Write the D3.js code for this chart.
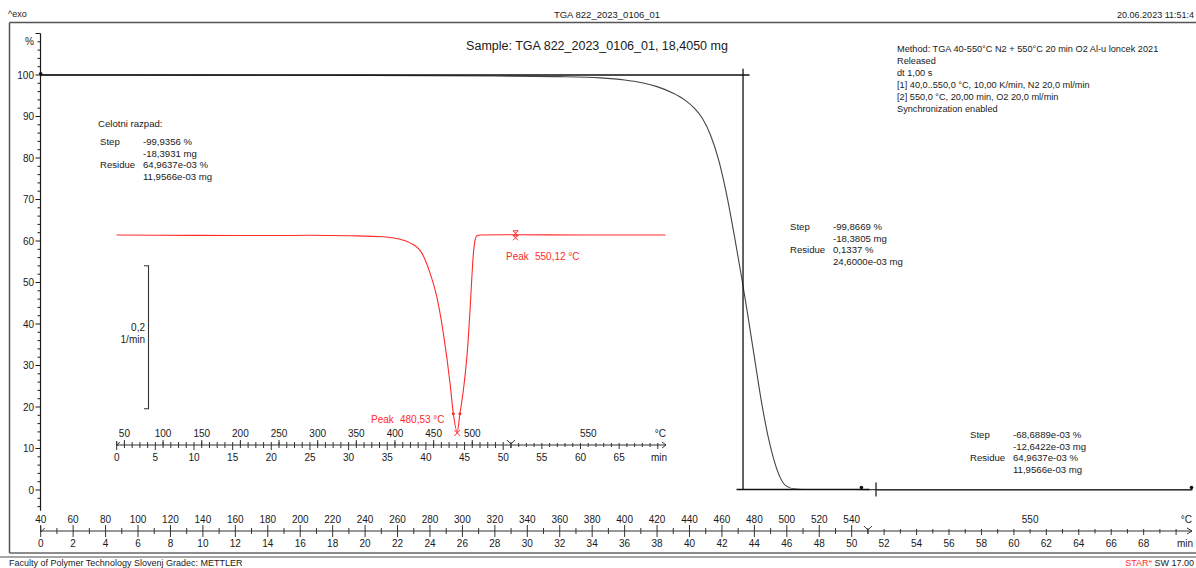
<!DOCTYPE html>
<html>
<head>
<meta charset="utf-8">
<script src="https://cdn.jsdelivr.net/npm/d3@7"></script>
<style>
  html, body { margin: 0; padding: 0; background: #fff; }
  svg { display: block; font-family: "Liberation Sans", Arial, sans-serif; }
</style>
</head>
<body>
<svg id="chart" width="1196" height="568"></svg>
<script>
// ---- TGA curve: time (min) vs mass (%) ----
const tgaTime = [0, 10, 20, 28, 32, 34.5, 36, 37, 38, 39, 39.7, 40.3, 40.8, 41.3, 41.8, 42.3, 42.8, 43.2, 43.6, 44.04, 44.47, 44.84, 45.21, 45.58, 45.95, 46.5, 47.4, 51, 60, 71];
const tgaPct  = [100, 99.97, 99.9, 99.75, 99.6, 99.3, 98.8, 98.2, 97.2, 95.6, 94.0, 92.0, 89.5, 85.5, 79.5, 71.0, 60.5, 51.5, 42.0, 31.0, 20.5, 13.0, 7.2, 3.1, 1.0, 0.25, 0.12, 0.10, 0.08, 0.065];

// ---- DTG curve: time (min) vs rate (1/min) ----
const dtgTime = [0, 10, 20, 25, 30.2, 34.5, 36.65, 37.95, 39.46, 40.53, 41.4, 42.25, 43.12, 43.55, 44.05, 44.4, 44.8, 45.15, 45.45, 45.7, 45.95, 46.15, 46.35, 46.6, 47, 51.6, 60, 71];
const dtgVal  = [0, -0.0005, -0.0008, -0.0004, -0.001, -0.0024, -0.006, -0.011, -0.025, -0.053, -0.086, -0.137, -0.207, -0.25, -0.2755, -0.25, -0.221, -0.188, -0.15, -0.107, -0.058, -0.025, -0.008, -0.001, 0, 0.0003, 0, 0];

// ---- Axis labels ----
const mainTempLabels = [40, 60, 80, 100, 120, 140, 160, 180, 200, 220, 240, 260, 280, 300, 320, 340, 360, 380, 400, 420, 440, 460, 480, 500, 520, 540];
const mainMinLabels = [0, 2, 4, 6, 8, 10, 12, 14, 16, 18, 20, 22, 24, 26, 28, 30, 32, 34, 36, 38, 40, 42, 44, 46, 48, 50, 52, 54, 56, 58, 60, 62, 64, 66, 68];
const innerTempLabels = [50, 100, 150, 200, 250, 300, 350, 400, 450, 500];
const innerMinLabels = [0, 5, 10, 15, 20, 25, 30, 35, 40, 45, 50, 55, 60, 65];
const pctTicks = [0, 10, 20, 30, 40, 50, 60, 70, 80, 90, 100];
const isoTemp = 550;         // isothermal segment temperature
const isoStart = 51;         // min at which the isotherm starts
const isoLabelAt = 61;       // min where the isotherm temperature is written
const heatStart = 40, heatRate = 10;  // °C, K/min

// ---- Evaluations ----
const peaks = [{t: 44.05, v: -0.2755, label: "Peak", value: "480,53 °C", lo: 43.55, hi: 44.4},
               {t: 51.6, v: 0.0003, label: "Peak", value: "550,12 °C"}];
const stepMain = {left: 43.7, at: 43.3, baseFrom: 42.9, baseTo: 51.1, residue: 0.1337, top: 101.5};
const stepTail = {at: 51.5, end: 71};

const headerLeft = "^exo";
const headerCenter = "TGA 822_2023_0106_01";
const headerRight = "20.06.2023 11:51:4";
const sampleTitle = "Sample: TGA 822_2023_0106_01, 18,4050 mg";
const methodLines = ["Method: TGA 40-550°C N2 + 550°C 20 min O2 Al-u loncek 2021", "Released", "dt 1,00 s",
  "[1] 40,0..550,0 °C, 10,00 K/min, N2 20,0 ml/min", "[2] 550,0 °C, 20,00 min, O2 20,0 ml/min", "Synchronization enabled"];
const evalTotal = ["Celotni razpad:", ["Step", "-99,9356 %"], ["", "-18,3931 mg"], ["Residue", "64,9637e-03 %"], ["", "11,9566e-03 mg"]];
const evalStep1 = [["Step", "-99,8669 %"], ["", "-18,3805 mg"], ["Residue", "0,1337 %"], ["", "24,6000e-03 mg"]];
const evalStep2 = [["Step", "-68,6889e-03 %"], ["", "-12,6422e-03 mg"], ["Residue", "64,9637e-03 %"], ["", "11,9566e-03 mg"]];
const footerLeft = "Faculty of Polymer Technology Slovenj Gradec: METTLER";

const svg = d3.select("#chart");
const RED = "#ff2a2a";
const INK = "#1a1a1a";

// ---- Scales ----
const x = d3.scaleLinear().domain([0, 70]).range([40.7, 40.7 + 70 * 16.22]);
const y = d3.scaleLinear().domain([0, 100]).range([490, 75]);
const xi = d3.scaleLinear().domain([0, 70]).range([116.7, 116.7 + 70 * 7.73]);
const yi = d3.scaleLinear().domain([-0.2, 0]).range([378, 235]);
const tempToMin = T => (T - heatStart) / heatRate;

// ---- Frame ----
svg.append("line").attr("x1", 9.5).attr("x2", 1196).attr("y1", 22.5).attr("y2", 22.5).attr("stroke", "#555").attr("stroke-width", 1.5);
svg.append("line").attr("x1", 9.5).attr("x2", 9.5).attr("y1", 22.5).attr("y2", 553).attr("stroke", "#555").attr("stroke-width", 1.5);
svg.append("line").attr("x1", 9.5).attr("x2", 1196).attr("y1", 553).attr("y2", 553).attr("stroke", "#666").attr("stroke-width", 1.3);
svg.append("line").attr("x1", 0).attr("x2", 1196).attr("y1", 557).attr("y2", 557).attr("stroke", "#888").attr("stroke-width", 1.3);

const txt = (xx, yy, s, opts = {}) => svg.append("text").attr("x", xx).attr("y", yy)
  .attr("font-size", opts.size || 10).attr("fill", opts.fill || INK)
  .attr("text-anchor", opts.anchor || "start").text(s);

txt(8, 17, headerLeft, {size: 9});
txt(607, 18, headerCenter, {size: 9.5, anchor: "middle"});
txt(1194, 18, headerRight, {size: 9, anchor: "end"});
txt(597, 50, sampleTitle, {size: 12.5, anchor: "middle"});
methodLines.forEach((s, i) => txt(897, 52 + i * 12, s, {size: 9.2}));
txt(9, 566, footerLeft, {size: 9});
const star = svg.append("text").attr("x", 1194).attr("y", 566).attr("font-size", 9).attr("text-anchor", "end");
star.append("tspan").attr("fill", RED).text("STAR");
star.append("tspan").attr("fill", RED).attr("font-size", 6).attr("dy", -3).text("e");
star.append("tspan").attr("fill", INK).attr("dy", 3).text(" SW 17.00");

// ---- Y axis (%) ----
svg.append("line").attr("x1", 40.5).attr("x2", 40.5).attr("y1", y(110)).attr("y2", y(-5)).attr("stroke", INK).attr("stroke-width", 1.2);
d3.range(-4, 111, 2).forEach(v => {
  const major = v % 10 === 0;
  svg.append("line").attr("x1", 40.5 - (major ? 5 : 3)).attr("x2", 40.5).attr("y1", y(v)).attr("y2", y(v))
    .attr("stroke", INK).attr("stroke-width", 1);
});
pctTicks.forEach(v => txt(34, y(v) + 3.5, v, {anchor: "end"}));
txt(34, y(108) + 3.5, "%", {anchor: "end"});

// ---- Main bottom axis (°C / min) ----
const axY = 531;
svg.append("line").attr("x1", x(0)).attr("x2", 1192).attr("y1", axY).attr("y2", axY).attr("stroke", "#333").attr("stroke-width", 1.1);
svg.append("path").attr("d", `M1187,${axY - 3}L1192,${axY}L1187,${axY + 3}`).attr("fill", "none").attr("stroke", "#333");
d3.range(0, 71).forEach(m => {
  const even = m % 2 === 0;
  let up, dn;
  if (m <= isoStart) { up = even ? 6 : 3; dn = even ? 6 : 3; }
  else { up = 2; dn = even ? 4 : 2.5; }
  svg.append("line").attr("x1", x(m)).attr("x2", x(m)).attr("y1", axY - up).attr("y2", axY + dn).attr("stroke", "#333").attr("stroke-width", 1);
});
svg.append("path").attr("d", `M${x(0)},${axY - 5}L${x(0)},${axY + 1}L${x(0) + 4},${axY - 3}`).attr("fill", "none").attr("stroke", "#333");
svg.append("path").attr("d", `M${x(isoStart) - 4},${axY - 5}L${x(isoStart)},${axY - 1}L${x(isoStart) + 4},${axY - 5}M${x(isoStart)},${axY - 1}L${x(isoStart)},${axY + 3}`)
  .attr("fill", "none").attr("stroke", "#333");
mainTempLabels.forEach(T => txt(x(tempToMin(T)), 523, T, {anchor: "middle"}));
txt(x(isoLabelAt), 523, isoTemp, {anchor: "middle"});
txt(1192, 523, "°C", {anchor: "end"});
mainMinLabels.forEach(m => txt(x(m), 547, m, {anchor: "middle"}));
txt(1193, 547, "min", {anchor: "end"});

// ---- Inner DTG axis ----
const iaY = 445;
svg.append("line").attr("x1", xi(0)).attr("x2", 666).attr("y1", iaY).attr("y2", iaY).attr("stroke", "#333").attr("stroke-width", 1.1);
svg.append("path").attr("d", `M662,${iaY - 3}L666,${iaY}L662,${iaY + 3}`).attr("fill", "none").attr("stroke", "#333");
d3.range(0, 71).forEach(m => {
  const five = m % 5 === 0;
  if (m <= isoStart) {
    svg.append("line").attr("x1", xi(m)).attr("x2", xi(m)).attr("y1", iaY - 3).attr("y2", iaY + (five ? 5 : 3)).attr("stroke", "#333");
  } else {
    svg.append("line").attr("x1", xi(m)).attr("x2", xi(m)).attr("y1", iaY - 2).attr("y2", iaY + (five ? 4 : 2)).attr("stroke", "#333");
  }
});
innerTempLabels.forEach(T => {
  const m = tempToMin(T);
  svg.append("line").attr("x1", xi(m)).attr("x2", xi(m)).attr("y1", iaY - 5).attr("y2", iaY).attr("stroke", "#333");
  txt(xi(m), 437, T, {anchor: "middle"});
});
svg.append("path").attr("d", `M${xi(0)},${iaY - 4}L${xi(0)},${iaY + 1}L${xi(0) + 3},${iaY - 3}`).attr("fill", "none").attr("stroke", "#333");
svg.append("path").attr("d", `M${xi(isoStart) - 4},${iaY - 5}L${xi(isoStart)},${iaY - 1}L${xi(isoStart) + 4},${iaY - 5}M${xi(isoStart)},${iaY - 1}L${xi(isoStart)},${iaY + 3}`)
  .attr("fill", "none").attr("stroke", "#333");
txt(xi(isoLabelAt), 437, isoTemp, {anchor: "middle"});
txt(666, 437, "°C", {anchor: "end"});
innerMinLabels.forEach(m => txt(xi(m), 461, m, {anchor: "middle"}));
txt(667, 461, "min", {anchor: "end"});

// DTG scale bar (0,2 1/min)
const barTop = yi(-0.043), barBot = yi(-0.243);
svg.append("path").attr("d", `M144,${barTop}L148.5,${barTop}L148.5,${barBot}L144,${barBot}`)
  .attr("fill", "none").attr("stroke", "#333").attr("stroke-width", 1.1);
txt(145, 331, "0,2", {anchor: "end"});
txt(145, 343, "1/min", {anchor: "end"});

// ---- Curves ----
const tga = tgaTime.map((t, i) => [t, tgaPct[i]]);
const dtg = dtgTime.map((t, i) => [t, dtgVal[i]]);

svg.append("path").datum(dtg)
  .attr("d", d3.line().x(d => xi(d[0])).y(d => yi(d[1])).curve(d3.curveMonotoneX))
  .attr("fill", "none").attr("stroke", RED).attr("stroke-width", 1.1);

svg.append("path").datum(tga)
  .attr("d", d3.line().x(d => x(d[0])).y(d => y(d[1])).curve(d3.curveMonotoneX))
  .attr("fill", "none").attr("stroke", "#444").attr("stroke-width", 1.1);

// Step evaluation lines
svg.append("line").attr("x1", x(0)).attr("x2", x(stepMain.left)).attr("y1", y(100)).attr("y2", y(100)).attr("stroke", "#111").attr("stroke-width", 1.3);
svg.append("line").attr("x1", x(stepMain.at)).attr("x2", x(stepMain.at)).attr("y1", y(stepMain.top)).attr("y2", y(0)).attr("stroke", "#111").attr("stroke-width", 1.3);
svg.append("line").attr("x1", x(stepMain.baseFrom)).attr("x2", x(stepMain.baseTo)).attr("y1", y(stepMain.residue)).attr("y2", y(stepMain.residue)).attr("stroke", "#111").attr("stroke-width", 1.6);
svg.append("line").attr("x1", x(stepTail.at)).attr("x2", x(stepTail.at)).attr("y1", y(stepMain.residue) - 7).attr("y2", y(stepMain.residue) + 7).attr("stroke", "#111").attr("stroke-width", 1.2);
svg.append("line").attr("x1", x(stepTail.at)).attr("x2", x(stepTail.end)).attr("y1", y(0.065)).attr("y2", y(0.065)).attr("stroke", "#333").attr("stroke-width", 1.3);
[[0, 100.3], [stepMain.baseTo - 0.5, 0.6], [stepTail.end - 0.05, 0.6]].forEach(p => {
  svg.append("circle").attr("cx", x(p[0])).attr("cy", y(p[1])).attr("r", 1.8).attr("fill", "#111");
});

// Peak markers
const pk = peaks[0];
const drawX = (cx, cy, s, col) => svg.append("path")
  .attr("d", `M${cx - s},${cy - s}L${cx + s},${cy + s}M${cx - s},${cy + s}L${cx + s},${cy - s}`)
  .attr("stroke", col).attr("stroke-width", 1);
drawX(xi(pk.t), yi(pk.v) + 1, 3, RED);
[pk.lo, pk.hi].forEach(t => svg.append("circle").attr("cx", xi(t)).attr("cy", yi(-0.25)).attr("r", 1.5).attr("fill", RED));
txt(371, 423, pk.label, {fill: RED});
txt(400, 423, pk.value, {fill: RED});
const pk2 = peaks[1];
drawX(xi(pk2.t), yi(pk2.v) + 3, 2.5, RED);
svg.append("path").attr("d", `M${xi(pk2.t) - 2.5},${yi(pk2.v) - 4}L${xi(pk2.t) + 2.5},${yi(pk2.v) - 4}L${xi(pk2.t) - 2.5},${yi(pk2.v) + 1}L${xi(pk2.t) + 2.5},${yi(pk2.v) + 1}Z`)
  .attr("fill", "none").attr("stroke", RED).attr("stroke-width", 1);
txt(506, 260, pk2.label, {fill: RED});
txt(535, 260, pk2.value, {fill: RED});

// ---- Evaluation result blocks ----
txt(98, 127, evalTotal[0], {size: 9.6});
evalTotal.slice(1).forEach((r, i) => {
  txt(100, 145 + i * 11.7, r[0], {size: 9.6});
  txt(143, 145 + i * 11.7, r[1], {size: 9.6});
});
evalStep1.forEach((r, i) => {
  txt(790, 230 + i * 11.7, r[0], {size: 9.6});
  txt(833, 230 + i * 11.7, r[1], {size: 9.6});
});
evalStep2.forEach((r, i) => {
  txt(970, 438 + i * 11.7, r[0], {size: 9.6});
  txt(1013, 438 + i * 11.7, r[1], {size: 9.6});
});
</script>
</body>
</html>
